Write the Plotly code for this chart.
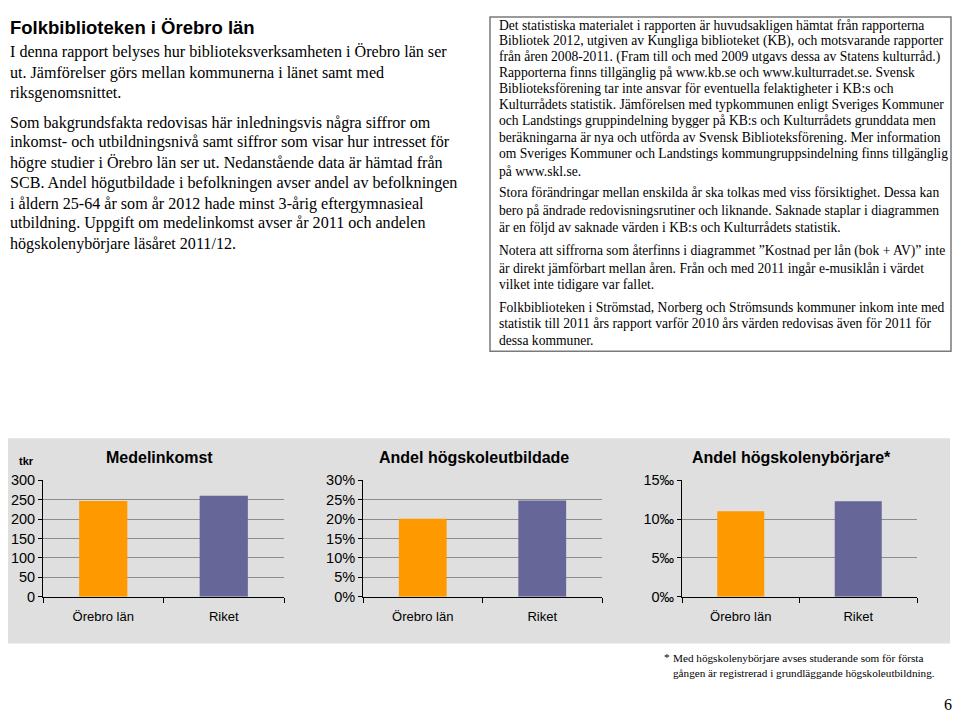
import plotly.graph_objects as go

categories = ["Örebro län", "Riket"]
medelinkomst_tkr = [247, 260]
hogskoleutbildade_pct = [20.1, 24.8]
nyborjare_promille = [11.0, 12.3]
bar_colors = ["#FF9900", "#666699"]

# The page body has an 8px margin, so the figure starts at (8, 8) of the window.
OFF = 8
W, H = 960 - OFF, 720 - OFF
def px(x): return min(max((x - OFF) / W, 0), 1)
def py(y): return min(max(1 - (y - OFF) / H, 0), 1)

left_title = "Folkbiblioteken i Örebro län"
left_lines = [
    "I denna rapport belyses hur biblioteksverksamheten i Örebro län ser",
    "ut. Jämförelser görs mellan kommunerna i länet samt med",
    "riksgenomsnittet.",
    "Som bakgrundsfakta redovisas här inledningsvis några siffror om",
    "inkomst- och utbildningsnivå samt siffror som visar hur intresset för",
    "högre studier i Örebro län ser ut. Nedanstående data är hämtad från",
    "SCB. Andel högutbildade i befolkningen avser andel av befolkningen",
    "i åldern 25-64 år som år 2012 hade minst 3-årig eftergymnasieal",
    "utbildning. Uppgift om medelinkomst avser år 2011 och andelen",
    "högskolenybörjare läsåret 2011/12.",
]
left_y = [45, 66, 87, 117, 137, 158, 179, 200, 220, 241]

right_lines = [
    "Det statistiska materialet i rapporten är huvudsakligen hämtat från rapporterna",
    "Bibliotek 2012, utgiven av Kungliga biblioteket (KB), och motsvarande rapporter",
    "från åren 2008-2011. (Fram till och med 2009 utgavs dessa av Statens kulturråd.)",
    "Rapporterna finns tillgänglig på www.kb.se och www.kulturradet.se. Svensk",
    "Biblioteksförening tar inte ansvar för eventuella felaktigheter i KB:s och",
    "Kulturrådets statistik. Jämförelsen med typkommunen enligt Sveriges Kommuner",
    "och Landstings gruppindelning bygger på KB:s och Kulturrådets grunddata men",
    "beräkningarna är nya och utförda av Svensk Biblioteksförening. Mer information",
    "om Sveriges Kommuner och Landstings kommungruppsindelning finns tillgänglig",
    "på www.skl.se.",
    "Stora förändringar mellan enskilda år ska tolkas med viss försiktighet. Dessa kan",
    "bero på ändrade redovisningsrutiner och liknande. Saknade staplar i diagrammen",
    "är en följd av saknade värden i KB:s och Kulturrådets statistik.",
    "Notera att siffrorna som återfinns i diagrammet ”Kostnad per lån (bok + AV)” inte",
    "är direkt jämförbart mellan åren. Från och med 2011 ingår e-musiklån i värdet",
    "vilket inte tidigare var fallet.",
    "Folkbiblioteken i Strömstad, Norberg och Strömsunds kommuner inkom inte med",
    "statistik till 2011 års rapport varför 2010 års värden redovisas även för 2011 för",
    "dessa kommuner.",
]
right_y = [18, 33.5, 49.5, 65.5, 82, 98.5, 115, 132, 149, 167, 189, 207, 224, 248, 266, 283, 306, 323, 340]

foot_lines = [
    "Med högskolenybörjare avses studerande som för första",
    "gången är registrerad i grundläggande högskoleutbildning.",
]
foot_y = [665, 680]

SERIF = "Liberation Serif"
SANS = "Liberation Sans, Arial, sans-serif"

fig = go.Figure()

charts = [
    dict(vals=medelinkomst_tkr, x0=43, x1=284, rng=[0, 300], dtick=50, suffix="", title="Medelinkomst", tx=159),
    dict(vals=hogskoleutbildade_pct, x0=363, x1=602, rng=[0, 30], dtick=5, suffix="%", title="Andel högskoleutbildade", tx=474),
    dict(vals=nyborjare_promille, x0=682, x1=917, rng=[0, 15], dtick=5, suffix="‰", title="Andel högskolenybörjare*", tx=791),
]

layout_axes = {}
annotations = []
for i, c in enumerate(charts, start=1):
    suf = "" if i == 1 else str(i)
    fig.add_trace(go.Bar(
        x=categories, y=c["vals"], marker_color=bar_colors, marker_line_width=0,
        width=0.4, xaxis="x" + suf, yaxis="y" + suf, showlegend=False,
        hoverinfo="x+y",
    ))
    layout_axes["xaxis" + suf] = dict(
        domain=[px(c["x0"]), px(c["x1"])], anchor="y" + suf,
        showline=True, linecolor="black", linewidth=1,
        ticks="outside", ticklen=5, tickcolor="black", tickson="boundaries",
        ticklabelstandoff=8,
        showgrid=False, tickfont=dict(family=SANS, size=13, color="black"),
        fixedrange=True,
    )
    layout_axes["yaxis" + suf] = dict(
        domain=[py(602), py(483)], anchor="x" + suf, range=c["rng"], dtick=c["dtick"],
        ticksuffix=c["suffix"], showline=True, linecolor="black", linewidth=1,
        ticks="outside", ticklen=4, tickcolor="black",
        showgrid=True, gridcolor="#8c8c8c", gridwidth=1, zeroline=False,
        tickfont=dict(family=SANS, size=14.5, color="black"), fixedrange=True,
    )
    annotations.append(dict(
        x=px(c["tx"]), y=py(460), xref="paper", yref="paper", text="<b>%s</b>" % c["title"],
        showarrow=False, xanchor="center", yanchor="middle",
        font=dict(family=SANS, size=16, color="black"),
    ))

annotations.append(dict(x=px(26), y=py(463), xref="paper", yref="paper", text="<b>tkr</b>",
                        showarrow=False, xanchor="center", yanchor="middle",
                        font=dict(family=SANS, size=11, color="black")))

annotations.append(dict(x=px(6), y=py(20), xref="paper", yref="paper", text="<b>%s</b>" % left_title,
                        showarrow=False, xanchor="left", yanchor="middle",
                        font=dict(family=SANS, size=18.5, color="black")))
for t, y in zip(left_lines, left_y):
    annotations.append(dict(x=0, y=py(y), xref="paper", yref="paper", text=t,
                            showarrow=False, xanchor="left", yanchor="middle",
                            font=dict(family=SERIF, size=16.1, color="black")))
for t, y in zip(right_lines, right_y):
    annotations.append(dict(x=px(497), y=py(y), xref="paper", yref="paper", text=t,
                            showarrow=False, xanchor="left", yanchor="middle",
                            font=dict(family=SERIF, size=13.6, color="black")))
annotations.append(dict(x=px(662), y=py(664), xref="paper", yref="paper", text="*",
                        showarrow=False, xanchor="left", yanchor="middle",
                        font=dict(family=SERIF, size=11.2, color="black")))
for t, y in zip(foot_lines, foot_y):
    annotations.append(dict(x=px(671), y=py(y), xref="paper", yref="paper", text=t,
                            showarrow=False, xanchor="left", yanchor="middle",
                            font=dict(family=SERIF, size=11.2, color="black")))
annotations.append(dict(x=px(948), y=py(712), xref="paper", yref="paper", text="6",
                        showarrow=False, xanchor="center", yanchor="middle",
                        font=dict(family=SERIF, size=16, color="black")))

shapes = [
    dict(type="rect", xref="paper", yref="paper", x0=px(1), x1=px(950), y0=py(650), y1=py(440),
         fillcolor="#dfdfdf", line=dict(width=0), layer="below"),
    dict(type="rect", xref="paper", yref="paper", x0=px(490), x1=px(951), y0=py(351), y1=1 - 1 / H,
         fillcolor="rgba(0,0,0,0)", line=dict(color="#7a7a7a", width=1.5), layer="below"),
]

fig.update_layout(
    width=W, height=H, margin=dict(l=0, r=0, t=0, b=0),
    paper_bgcolor="white", plot_bgcolor="rgba(0,0,0,0)",
    annotations=annotations, shapes=shapes, bargap=0.6,
    **layout_axes,
)

fig.write_html("out.html")
